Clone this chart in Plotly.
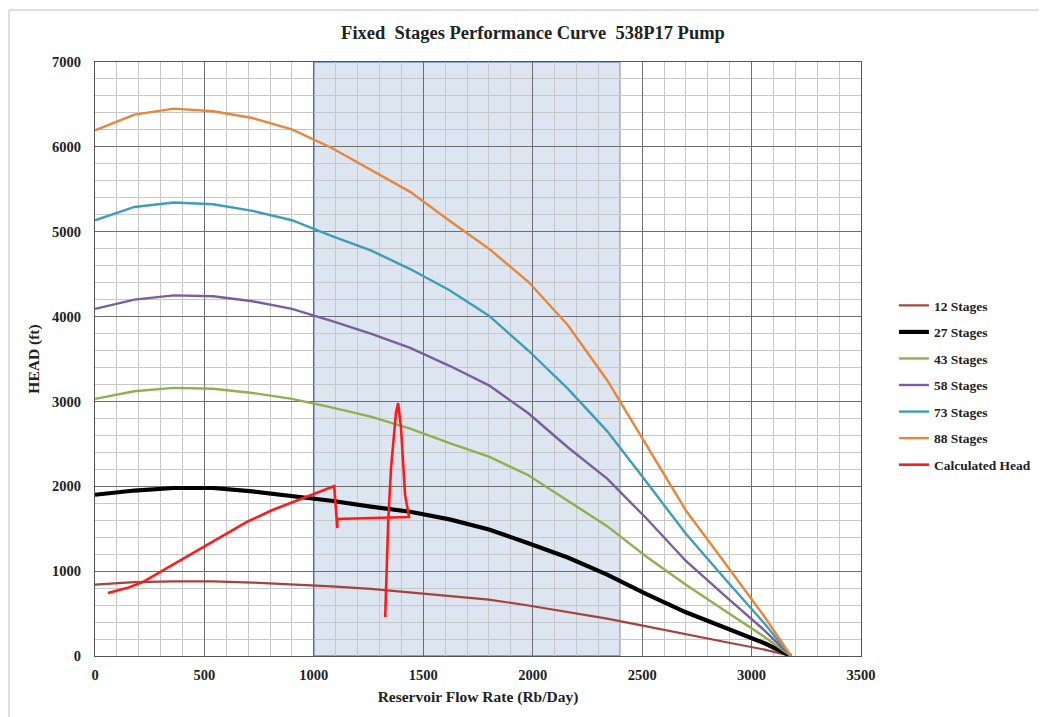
import plotly.graph_objects as go

# ---------------- data ----------------
flow = [0, 180, 360, 540, 720, 900, 1080, 1260, 1440, 1620, 1800, 1980, 2160, 2340, 2520, 2700, 2880, 3060, 3180]

stages_12 = [840, 870, 880, 880, 865, 845, 820, 790, 750, 710, 665, 595, 520, 440, 350, 255, 165, 75, 0]
stages_27 = [1900, 1950, 1980, 1980, 1940, 1890, 1830, 1760, 1700, 1610, 1490, 1330, 1160, 960, 730, 515, 335, 150, 0]
stages_43 = [3030, 3120, 3160, 3150, 3100, 3030, 2930, 2820, 2680, 2510, 2350, 2130, 1830, 1530, 1170, 840, 530, 225, 0]
stages_58 = [4090, 4200, 4250, 4240, 4180, 4090, 3950, 3800, 3630, 3420, 3190, 2860, 2460, 2090, 1620, 1120, 705, 300, 0]
stages_73 = [5135, 5292, 5344, 5324, 5245, 5135, 4950, 4780, 4560, 4310, 4010, 3600, 3150, 2650, 2050, 1440, 905, 380, 0]
stages_88 = [6195, 6380, 6450, 6420, 6340, 6207, 5990, 5730, 5470, 5130, 4800, 4410, 3900, 3250, 2480, 1715, 1090, 460, 0]

calc_x = [59, 145, 218, 328, 492, 569, 692, 811, 965, 1093, 1107, 1107, 1435, 1417, 1398, 1385, 1375, 1353, 1340, 1330, 1326]
calc_y = [742, 800, 870, 1036, 1284, 1402, 1578, 1720, 1873, 2002, 1508, 1614, 1637, 1896, 2697, 2980, 2862, 2226, 1602, 895, 459]

series_names = ["12 Stages", "27 Stages", "43 Stages", "58 Stages", "73 Stages", "88 Stages"]
series_values = [stages_12, stages_27, stages_43, stages_58, stages_73, stages_88]
series_colors = ["#A4423F", "#000000", "#8FB04E", "#7A5E9E", "#3F9DB8", "#E8873C"]
series_widths = [2.2, 4.2, 2.4, 2.4, 2.4, 2.4]

window_range = [1000, 2400]

x_ticks = [0, 500, 1000, 1500, 2000, 2500, 3000, 3500]
y_ticks = [0, 1000, 2000, 3000, 4000, 5000, 6000, 7000]

FONT = "Liberation Serif"

# plot-area geometry in figure pixels
L, T, PW, PH = 87, 54, 766, 594

fig = go.Figure()
for i, (name, vals, col, w) in enumerate(zip(series_names, series_values, series_colors, series_widths)):
    fig.add_trace(go.Scatter(
        x=flow, y=vals, mode="lines", name=name,
        line=dict(color=col, width=w),
        legendgroup=f"g{i}",
    ))

fig.add_trace(go.Scatter(
    x=calc_x, y=calc_y, mode="lines", name="Calculated Head",
    line=dict(color="#FF1A1A", width=2.6),
    legendgroup="g_calc",
))

# operating window
fig.add_shape(type="rect", xref="x", yref="y",
              x0=window_range[0], x1=window_range[1], y0=0, y1=7000,
              fillcolor="#DCE5F0", line=dict(color="#6F8FB5", width=1.6),
              layer="below")

# outer chart frame (left and top edges visible)
fig.add_shape(type="rect", xref="paper", yref="paper",
              x0=(1 - L) / PW, x1=1.5, y0=-0.3, y1=1 + (T - 2) / PH,
              line=dict(color="#BFBFBF", width=1), fillcolor="rgba(0,0,0,0)")

fig.update_layout(
    width=1047, height=717,
    margin=dict(l=L, r=1047 - L - PW, t=T, b=717 - T - PH),
    paper_bgcolor="white", plot_bgcolor="white",
    font=dict(family=FONT, color="#222222"),
    title=dict(text="<b>Fixed  Stages Performance Curve  538P17 Pump</b>",
               x=525 / 1047, xanchor="center", y=1 - 25 / 717, yanchor="middle",
               font=dict(family=FONT, size=18.5, color="#222222")),
    showlegend=True,
    legend=dict(x=1.043, xanchor="left", y=0.616, yanchor="top",
                font=dict(family=FONT, size=13.5, color="#222222", weight="bold"),
                traceorder="grouped", tracegroupgap=6,
                bgcolor="rgba(0,0,0,0)"),
)

fig.update_xaxes(
    range=[0, 3500], tickvals=x_ticks, ticktext=[str(v) for v in x_ticks],
    showgrid=True, gridcolor="#6E6E6E", gridwidth=1,
    minor=dict(dtick=100, showgrid=True, gridcolor="#C8C8C8", gridwidth=1),
    showline=True, linecolor="#555555", linewidth=1, mirror=True,
    ticks="", zeroline=False, ticklabelstandoff=6,
    tickfont=dict(family=FONT, size=14.5, color="#222222", weight="bold"),
    title=dict(text="<b>Reservoir Flow Rate (Rb/Day)</b>", standoff=8,
               font=dict(family=FONT, size=15.5, color="#222222")),
)
fig.update_yaxes(
    range=[0, 7000], tickvals=y_ticks, ticktext=[str(v) for v in y_ticks],
    showgrid=True, gridcolor="#6E6E6E", gridwidth=1,
    minor=dict(dtick=200, showgrid=True, gridcolor="#C8C8C8", gridwidth=1),
    showline=True, linecolor="#555555", linewidth=1, mirror=True,
    ticks="", zeroline=False, ticklabelstandoff=10,
    tickfont=dict(family=FONT, size=14.5, color="#222222", weight="bold"),
    title=dict(text="<b>HEAD (ft)</b>", standoff=8,
               font=dict(family=FONT, size=15.5, color="#222222")),
)

fig.write_html("out.html")
